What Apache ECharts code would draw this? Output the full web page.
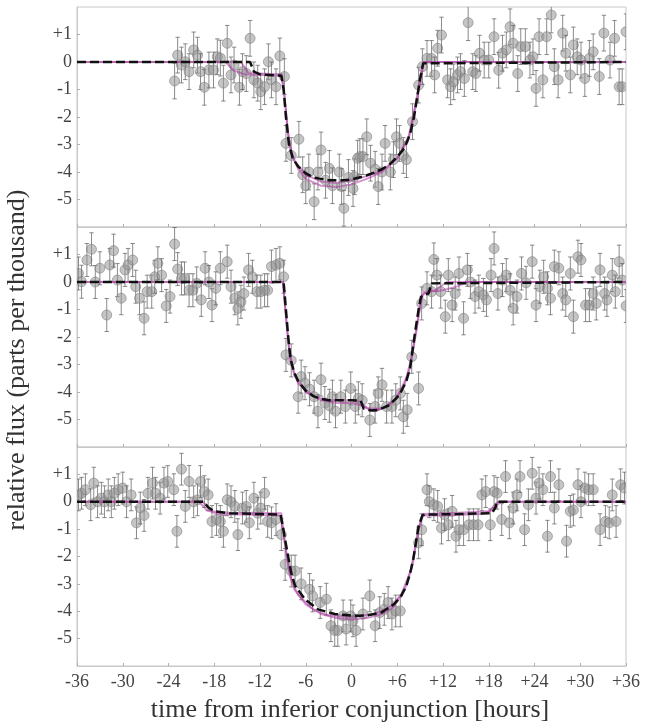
<!DOCTYPE html>
<html><head><meta charset="utf-8">
<script src="https://cdn.jsdelivr.net/npm/echarts@6/dist/echarts.min.js"></script>
<style>html,body{margin:0;padding:0;background:#fff}#c{width:652px;height:728px}</style>
</head><body><div id="c"></div>
<script>
// ---------- data ----------
const xTitle = 'time from inferior conjunction [hours]';
const yTitle = 'relative flux (parts per thousand)';
const xMin = -36, xMax = 36, xStep = 6;
const yMin = -6, yMax = 2, yStep = 1;

// error-bar half-lengths (ppt) per panel
const errP1 = 0.65, errP2 = 0.6, errP3 = 0.58;

// Panel 1 observations
const p1_t = [-23.2,-22.8,-22.3,-21.8,-21.3,-20.7,-20.2,-19.8,-19.3,-18.7,-18.1,-17.6,-17.2,-16.8,-16.3,-15.8,-15.4,-14.7,-14.3,-13.8,-13.3,-12.8,-12.3,-11.9,-11.4,-10.9,-10.5,-9.9,-9.4,-8.8,
  -8.6,-7.9,-6.9,-6.4,-6.0,-5.6,-4.9,-4.4,-4.0,-3.4,-2.9,-2.5,-1.6,-1.3,-1.0,-0.4,0.2,0.4,0.8,1.1,1.5,2.0,2.5,3.1,3.5,4.0,4.4,5.1,5.5,5.9,6.3,6.8,7.2,8.0,8.8,
  9.3,9.9,10.5,10.9,11.3,11.8,12.6,13.0,13.4,13.9,14.3,14.8,15.3,15.9,16.3,16.8,17.4,18.0,18.7,19.3,19.8,20.3,20.8,21.2,21.8,22.2,22.8,23.4,23.8,24.2,24.6,25.1,25.6,26.2,26.6,27.1,27.7,28.1,28.7,29.1,29.6,30.1,30.6,31.2,31.7,32.5,33.1,33.9,34.5,35.1,35.5,36.0];
const p1_v = [-0.69,0.25,-0.11,0.01,-0.35,0.44,0.25,-0.35,-0.92,-0.29,-0.29,0.19,0.14,-0.77,0.68,-0.47,-0.11,-0.92,-0.35,-0.42,0.86,-0.65,-0.77,-1.08,-0.9,0.01,-0.65,-0.9,0.22,-0.53,
  -2.96,-3.4,-2.81,-4.1,-4.5,-4.0,-5.08,-4.0,-3.2,-4.3,-3.87,-4.5,-4.0,-4.53,-5.32,-4.2,-4.6,-4.17,-3.5,-3.44,-3.44,-2.72,-3.68,-3.9,-4.53,-4.0,-2.96,-4.0,-3.55,-2.72,-2.96,-3.4,-3.55,-2.17,-0.84,
  -0.17,0.13,0.13,-0.47,0.5,0.98,-0.65,-0.9,-0.72,-0.47,-0.35,-0.6,1.43,-0.35,-0.42,0.32,0.07,0.07,0.92,-0.3,0.32,0.44,1.28,0.68,-0.42,0.56,0.56,0.07,0.19,-0.96,0.92,-0.65,0.92,1.71,-0.17,-0.65,1.05,0.32,-0.47,0.62,0.19,0.07,-0.6,0.13,0.37,-0.53,1.05,0.07,0.86,-0.9,-0.9,1.1];

// Panel 2 observations
const p2_t = [-35.8,-35.4,-34.7,-34.1,-33.6,-33.0,-32.1,-31.7,-31.2,-30.7,-30.2,-29.7,-29.3,-28.7,-28.3,-27.8,-27.2,-26.8,-26.2,-25.8,-25.4,-24.9,-24.3,-23.8,-23.2,-22.8,-22.3,-21.9,-21.3,-20.8,-20.3,-19.7,-19.2,-18.7,-18.3,-17.8,-17.2,-16.3,-15.8,-15.3,-14.9,-14.5,-14.1,-13.5,-13.0,-12.4,-11.9,-11.4,-11.0,-10.5,-9.9,-9.4,-8.9,
  -8.6,-7.9,-7.0,-6.6,-6.1,-5.5,-4.9,-4.4,-4.0,-3.5,-2.9,-2.5,-2.1,-1.4,-0.8,-0.1,0.5,0.9,1.4,2.4,3.1,3.5,4.0,4.6,5.3,5.8,6.4,6.8,7.3,7.9,8.8,
  9.2,9.9,10.5,10.8,11.2,11.7,12.3,12.7,13.2,13.6,14.1,14.7,15.2,15.6,16.2,16.7,17.3,17.7,18.3,18.7,19.2,19.8,20.3,20.8,21.2,21.7,22.3,22.9,23.7,24.2,24.7,25.2,25.7,26.1,26.6,27.2,27.7,28.1,28.7,29.1,29.7,30.1,30.7,31.2,31.7,32.1,32.6,33.2,33.5,34.2,34.6,35.1,35.5,36.0];
const p2_v = [0.31,0.01,0.8,1.19,0.0,0.5,-1.2,0.62,1.14,0.07,-0.59,0.44,0.62,0.8,-0.17,-0.59,-1.32,-0.35,-0.35,0.19,0.68,0.25,-0.87,-0.53,1.38,0.47,0.13,0.13,-0.3,-0.3,-0.05,-0.65,0.5,0.0,-0.84,-0.23,0.5,0.74,-0.17,-0.59,-0.96,-0.72,-0.42,0.44,0.19,-0.35,-0.35,-0.3,-0.3,0.56,0.62,0.68,0.19,
  -2.65,-2.85,-4.17,-3.44,-3.68,-3.9,-4.17,-4.7,-3.55,-4.4,-4.5,-4.17,-4.7,-4.17,-4.53,-3.87,-4.53,-4.23,-4.3,-5.02,-4.53,-4.05,-3.74,-4.53,-4.53,-4.3,-4.05,-4.9,-4.65,-2.72,-3.87,
  -0.78,-0.23,-0.35,0.82,0.25,-0.35,-1.26,0.25,-0.84,-0.42,0.31,-1.32,0.44,0.0,-0.53,-0.35,-0.47,-0.65,0.25,1.22,-0.42,0.07,0.25,-0.3,-0.96,-0.53,0.31,-0.03,0.74,-0.84,-0.17,0.19,-0.23,-0.59,0.56,0.5,-0.42,-0.65,0.31,-1.26,0.92,0.8,-0.84,-0.84,-0.42,-0.78,0.44,-0.42,-0.65,0.25,-0.35,0.74,0.07,-0.87];

// Panel 3 observations
const p3_t = [-35.8,-35.4,-34.9,-34.2,-33.8,-33.3,-32.8,-32.4,-31.9,-31.5,-31.1,-30.6,-30.0,-29.5,-28.9,-28.2,-27.7,-27.2,-26.7,-26.1,-25.7,-25.1,-24.6,-24.1,-23.3,-22.9,-22.3,-21.8,-21.3,-20.7,-20.2,-19.8,-19.3,-18.8,-18.3,-17.7,-17.2,-16.8,-16.3,-15.8,-15.3,-14.9,-14.3,-13.8,-13.4,-12.8,-12.3,-11.9,-11.4,-11.0,-10.5,-9.9,-9.2,
  -8.7,-7.9,-7.4,-6.6,-5.5,-5.1,-4.1,-3.3,-2.7,-2.2,-1.8,-1.1,-0.7,-0.1,0.2,0.6,1.5,2.4,3.1,3.7,4.3,4.8,5.3,5.8,6.4,8.8,9.2,
  9.9,10.2,10.8,11.3,11.8,12.2,12.7,13.2,13.7,14.1,14.7,15.4,16.0,16.6,17.1,17.6,18.2,18.7,19.1,19.7,20.2,20.7,21.2,21.7,22.1,22.7,23.2,23.7,24.2,24.6,25.1,25.7,26.1,26.6,27.2,28.2,28.7,29.1,29.7,30.1,30.6,31.1,31.7,32.6,33.3,33.8,34.2,34.7,35.3,35.8];
const p3_v = [0.25,0.31,0.44,-0.11,0.68,0.0,0.13,0.0,0.25,0.0,0.31,0.44,0.5,0.0,0.25,-0.77,-0.23,-0.5,0.31,0.68,0.31,0.13,0.68,0.74,0.44,-1.08,1.19,-0.17,0.74,0.0,0.07,0.74,0.37,0.25,-0.72,-0.65,-0.72,-1.08,0.07,0.0,-0.17,-1.2,-0.23,-0.17,-0.77,0.13,-0.42,-0.23,0.31,-0.72,-0.77,-0.65,-1.2,
  -2.29,-2.53,-2.53,-3.0,-3.2,-3.44,-3.68,-3.56,-4.53,-4.7,-4.7,-4.17,-4.65,-4.17,-4.35,-4.7,-4.1,-3.44,-4.53,-4.05,-3.93,-3.68,-4.1,-3.99,-3.99,-1.5,-1.02,
  0.44,0.0,-0.11,-0.17,-0.96,-0.47,-0.84,-0.35,-1.26,-1.02,-1.02,-0.84,-0.84,-0.84,0.25,0.37,-0.84,0.37,0.31,-0.65,0.92,-0.77,-0.23,0.25,0.92,-1.02,-0.11,1.04,0.13,0.68,0.44,-1.26,0.92,-0.23,0.62,-1.44,-0.35,-0.3,0.62,0.0,0.5,0.44,0.44,-1.02,-0.72,-0.77,0.25,-0.72,0.62,0.5];

// best-fit model (black dashed)
const m1_t = [-36,-13.3,-12.8,-12.0,-9.2,-8.9,-8.6,-8.2,-7.7,-7.0,-6.0,-5.0,-4.0,-3.0,-1.0,0.0,1.0,2.0,3.0,4.0,5.0,6.0,7.0,7.7,8.2,8.6,9.0,9.4,9.6,36];
const m1_v = [0,0,-0.35,-0.45,-0.5,-1.0,-2.0,-3.0,-3.5,-3.8,-4.05,-4.2,-4.25,-4.3,-4.3,-4.27,-4.2,-4.12,-4.02,-3.9,-3.72,-3.45,-3.1,-2.6,-2.0,-1.3,-0.6,-0.05,0,0];
const m2_t = [-36,-8.9,-8.6,-8.3,-8.0,-7.5,-7.0,-6.0,-5.0,-4.0,-3.0,0.0,1.2,1.6,2.5,3.5,4.8,5.8,6.4,7.2,7.7,8.3,8.8,9.1,9.5,10.1,10.5,10.7,36];
const m2_v = [0,0,-1.0,-2.0,-2.8,-3.3,-3.6,-3.95,-4.15,-4.25,-4.3,-4.3,-4.32,-4.6,-4.67,-4.65,-4.5,-4.25,-4.05,-3.6,-3.1,-1.9,-1.0,-0.55,-0.47,-0.42,-0.05,0,0];
const m3_t = [-36,-19.4,-18.8,-18.0,-16.0,-9.3,-9.0,-8.4,-7.9,-7.4,-6.1,-4.4,-2.2,0.4,2.0,3.9,5.6,6.5,7.2,7.7,8.1,8.8,9.3,9.6,14.0,18.4,18.9,19.0,36];
const m3_v = [0,0,-0.2,-0.35,-0.42,-0.47,-0.9,-1.87,-2.6,-3.07,-3.56,-3.93,-4.1,-4.17,-4.15,-4.05,-3.74,-3.45,-3.07,-2.6,-2.1,-0.89,-0.5,-0.47,-0.45,-0.42,-0.2,0,0];

// posterior sample curves (pink)
const k1a_t = [-36,-16.5,-15.5,-14.0,-9.2,-8.8,-8.4,-8.0,-7.0,-6.0,-4.0,-2.0,0.0,2.0,4.0,6.0,7.5,8.5,9.4,36];
const k1a_v = [0,0,-0.3,-0.45,-0.5,-1.2,-2.4,-3.2,-3.9,-4.25,-4.5,-4.55,-4.45,-4.25,-4.0,-3.5,-2.7,-1.4,0,0];
const k1b_t = [-36,-14.5,-13.5,-9.1,-8.7,-8.2,-7.5,-6.0,-4.0,-2.0,0.0,2.0,4.0,6.0,7.5,8.5,9.5,36];
const k1b_v = [0,0,-0.4,-0.45,-1.5,-2.9,-3.6,-4.1,-4.35,-4.4,-4.3,-4.15,-3.95,-3.5,-2.8,-1.5,0,0];
const k2a_t = [-36,-9.0,-8.6,-8.2,-7.5,-6.0,-4.0,-2.0,0.0,1.5,3.0,4.5,6.0,7.5,8.5,9.2,10.0,12.0,14.0,15.0,36];
const k2a_v = [0,0,-1.2,-2.4,-3.4,-4.0,-4.3,-4.4,-4.4,-4.5,-4.7,-4.55,-4.2,-3.3,-1.8,-0.5,-0.35,-0.3,-0.15,0,0];
const k2b_t = [-36,-9.0,-8.5,-8.0,-7.0,-5.0,-3.0,0.0,1.2,2.0,4.0,5.5,7.0,8.0,8.8,9.4,11.0,12.5,36];
const k2b_v = [0,0,-1.6,-2.9,-3.7,-4.15,-4.3,-4.3,-4.35,-4.6,-4.6,-4.35,-3.7,-2.6,-1.2,-0.4,-0.3,0,0];
const k3a_t = [-36,-20.0,-19.0,-17.5,-9.3,-8.8,-8.2,-7.5,-6.0,-4.0,-2.0,0.0,2.0,4.0,5.5,7.0,8.0,8.8,9.4,12.0,17.0,18.5,19.5,36];
const k3a_v = [0,0,-0.3,-0.45,-0.5,-1.4,-2.5,-3.2,-3.75,-4.1,-4.25,-4.3,-4.25,-4.1,-3.85,-3.2,-2.3,-1.0,-0.5,-0.5,-0.45,-0.3,0,0];
const k3b_t = [-36,-19.5,-18.3,-16.0,-9.2,-8.7,-8.0,-7.0,-5.0,-3.0,0.0,3.0,5.0,6.5,7.8,8.7,9.3,14.0,18.0,19.2,36];
const k3b_v = [0,0,-0.35,-0.4,-0.42,-1.6,-2.8,-3.4,-3.95,-4.15,-4.2,-4.1,-3.85,-3.4,-2.5,-1.1,-0.45,-0.4,-0.35,0,0];

// ---------- build chart ----------
const zip = (a, b) => a.map((t, i) => [t, b[i]]);
const obs = (a, b, e) => a.map((t, i) => [t, b[i], e]);
const SERIF = '"Liberation Serif","DejaVu Serif",serif';
const fmt = v => (v > 0 ? '+' + v : String(v));

const gridTops = [7, 227, 447];
const gridH = [220, 220, 219];
const grids = gridTops.map((t, i) => ({left: 77, width: 549, top: t, height: gridH[i], show: true, borderColor: '#c8c8c8', borderWidth: 1, backgroundColor: 'transparent'}));

const xAxes = [0, 1, 2].map(i => ({
  type: 'value', gridIndex: i, min: xMin, max: xMax, interval: xStep,
  axisLine: {show: true, onZero: false, lineStyle: {color: '#c8c8c8'}},
  axisTick: {show: true, inside: true, length: 3, lineStyle: {color: '#b0b0b0'}},
  splitLine: {show: false},
  axisLabel: {show: i === 2, formatter: fmt, fontFamily: SERIF, fontSize: 18, color: '#444', margin: 7}
}));
const yAxes = [0, 1, 2].map(i => ({
  type: 'value', gridIndex: i, min: yMin, max: yMax, interval: yStep,
  axisLine: {show: true, onZero: false, lineStyle: {color: '#c8c8c8'}},
  axisTick: {show: true, inside: true, length: 3, lineStyle: {color: '#b0b0b0'}},
  splitLine: {show: false},
  axisLabel: {showMinLabel: false, showMaxLabel: false, formatter: fmt, fontFamily: SERIF, fontSize: 18, color: '#444', margin: 5}
}));

function errRender(params, api) {
  const x = api.value(0), y = api.value(1), e = api.value(2);
  const c = api.coord([x, y]);
  const t = api.coord([x, y + e]);
  const b = api.coord([x, y - e]);
  const cap = 2.2;
  const st = {stroke: 'rgba(100,100,100,0.75)', lineWidth: 1};
  return {type: 'group', children: [
    {type: 'line', shape: {x1: c[0], y1: t[1], x2: c[0], y2: b[1]}, style: st},
    {type: 'line', shape: {x1: c[0] - cap, y1: t[1], x2: c[0] + cap, y2: t[1]}, style: st},
    {type: 'line', shape: {x1: c[0] - cap, y1: b[1], x2: c[0] + cap, y2: b[1]}, style: st},
    {type: 'circle', shape: {cx: c[0], cy: c[1], r: 5}, style: {fill: 'rgba(150,150,150,0.55)', stroke: 'rgba(120,120,120,0.55)', lineWidth: 1}}
  ]};
}

const obsSets = [obs(p1_t, p1_v, errP1), obs(p2_t, p2_v, errP2), obs(p3_t, p3_v, errP3)];
const models = [zip(m1_t, m1_v), zip(m2_t, m2_v), zip(m3_t, m3_v)];
const pinks = [[zip(k1a_t, k1a_v), zip(k1b_t, k1b_v)], [zip(k2a_t, k2a_v), zip(k2b_t, k2b_v)], [zip(k3a_t, k3a_v), zip(k3b_t, k3b_v)]];

const series = [];
[0, 1, 2].forEach(i => {
  series.push({type: 'custom', xAxisIndex: i, yAxisIndex: i, renderItem: errRender, data: obsSets[i], clip: true, z: 2, silent: true});
  pinks[i].forEach(p => series.push({type: 'line', xAxisIndex: i, yAxisIndex: i, data: p, showSymbol: false, z: 3, silent: true,
    lineStyle: {color: 'rgba(175,60,165,0.55)', width: 2}}));
  series.push({type: 'line', xAxisIndex: i, yAxisIndex: i, data: models[i], showSymbol: false, z: 4, silent: true,
    lineStyle: {color: '#111', width: 2.5, type: [9, 4]}});
});

const chart = echarts.init(document.getElementById('c'), null, {renderer: 'canvas'});
chart.setOption({
  animation: false,
  backgroundColor: '#fff',
  grid: grids, xAxis: xAxes, yAxis: yAxes, series: series,
  graphic: [
    {type: 'text', x: 350, y: 697, style: {text: xTitle, font: '26px ' + SERIF, fill: '#333', align: 'center', verticalAlign: 'top'}},
    {type: 'text', x: 4, y: 360, rotation: Math.PI / 2, style: {text: yTitle, font: '26px ' + SERIF, fill: '#333', align: 'center', verticalAlign: 'top'}}
  ]
});
</script></body></html>
